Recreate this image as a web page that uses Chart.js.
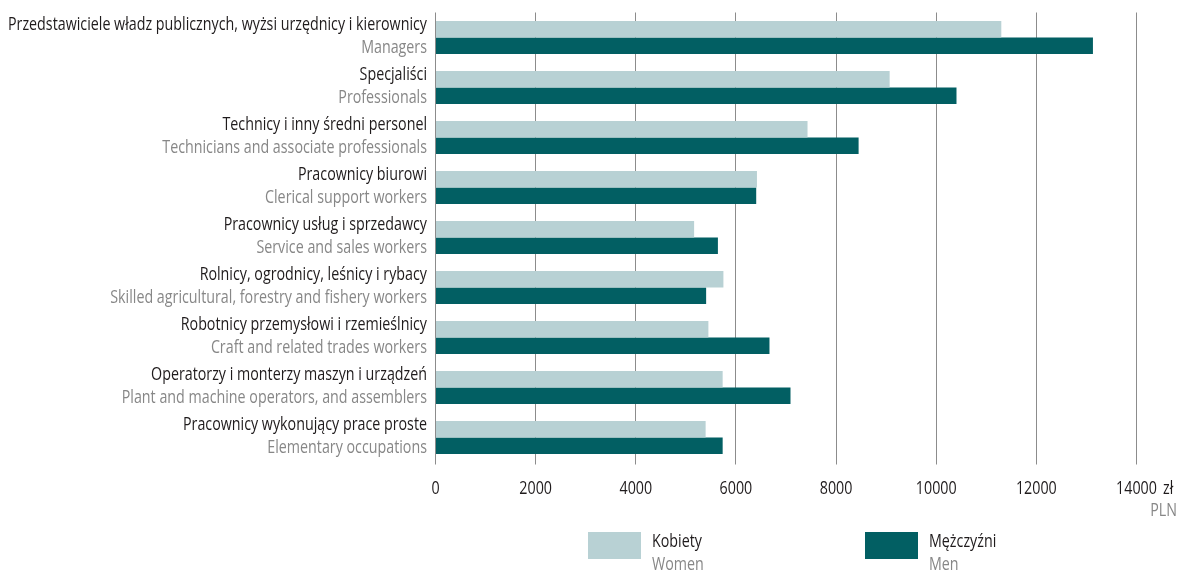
<!DOCTYPE html>
<html lang="pl">
<head>
    <meta charset="UTF-8">
    <title>Wynagrodzenia wg grup zawodów</title>
    <script src="https://cdn.jsdelivr.net/npm/chart.js"></script>
    <style>
        html, body { margin: 0; padding: 0; background: #fff; }
        #wrap { width: 1179px; height: 570px; }
    </style>
</head>
<body>
    <div id="wrap"><canvas id="payChart"></canvas></div>

    <script>
        const categoriesPl = [
            'Przedstawiciele władz publicznych, wyżsi urzędnicy i kierownicy',
            'Specjaliści',
            'Technicy i inny średni personel',
            'Pracownicy biurowi',
            'Pracownicy usług i sprzedawcy',
            'Rolnicy, ogrodnicy, leśnicy i rybacy',
            'Robotnicy przemysłowi i rzemieślnicy',
            'Operatorzy i monterzy maszyn i urządzeń',
            'Pracownicy wykonujący prace proste'
        ];
        const categoriesEn = [
            'Managers',
            'Professionals',
            'Technicians and associate professionals',
            'Clerical support workers',
            'Service and sales workers',
            'Skilled agricultural, forestry and fishery workers',
            'Craft and related trades workers',
            'Plant and machine operators, and assemblers',
            'Elementary occupations'
        ];
        const women = [11300, 9070, 7430, 6420, 5165, 5750, 5450, 5735, 5395];
        const men = [13130, 10405, 8450, 6405, 5640, 5405, 6670, 7090, 5735];
        const xTicks = [0, 2000, 4000, 6000, 8000, 10000, 12000, 14000];

        const FONT = '18px "Open Sans", "Noto Sans", sans-serif';
        const DARK = '#1f1b1c';
        const GREY = '#878787';
        const WOMEN_COLOR = '#b8d1d4';
        const MEN_COLOR = '#025f63';

        // brak fontu typu condensed - tekst ściskany w poziomie
        let squeeze = 1;
        function text(ctx, str, x, y, align, color) {
            ctx.save();
            ctx.scale(squeeze, 1);
            ctx.textAlign = align;
            ctx.fillStyle = color;
            ctx.fillText(str, x / squeeze, y);
            ctx.restore();
        }

        const extraText = {
            id: 'extraText',
            afterDraw(chart) {
                const ctx = chart.ctx;
                const y = chart.scales.y;
                const x = chart.scales.x;
                ctx.save();
                ctx.font = FONT;
                ctx.textBaseline = 'alphabetic';
                squeeze = 419 / ctx.measureText(categoriesPl[0]).width;

                categoriesPl.forEach((c, i) => {
                    const cy = y.getPixelForTick(i);
                    text(ctx, c, 427, cy - 8, 'right', DARK);
                    text(ctx, categoriesEn[i], 427, cy + 15.5, 'right', GREY);
                });

                xTicks.forEach(v => {
                    text(ctx, String(v), x.getPixelForValue(v), 494, 'center', DARK);
                });
                text(ctx, 'zł', 1163, 494, 'left', DARK);
                text(ctx, 'PLN', 1177, 516, 'right', GREY);

                // legenda
                const items = [
                    { x: 588, color: WOMEN_COLOR, pl: 'Kobiety', en: 'Women' },
                    { x: 865, color: MEN_COLOR, pl: 'Mężczyźni', en: 'Men' }
                ];
                items.forEach(it => {
                    ctx.fillStyle = it.color;
                    ctx.fillRect(it.x, 532, 53, 27);
                    text(ctx, it.pl, it.x + 64, 547, 'left', DARK);
                    text(ctx, it.en, it.x + 64, 570, 'left', GREY);
                });
                ctx.restore();
            }
        };

        new Chart(document.getElementById('payChart'), {
            type: 'bar',
            data: {
                labels: categoriesPl,
                datasets: [
                    { label: 'Kobiety', data: women, backgroundColor: WOMEN_COLOR },
                    { label: 'Mężczyźni', data: men, backgroundColor: MEN_COLOR }
                ]
            },
            options: {
                indexAxis: 'y',
                responsive: true,
                maintainAspectRatio: false,
                animation: false,
                layout: { padding: { top: 12.5, right: 42.5, left: 0, bottom: 0 } },
                datasets: { bar: { categoryPercentage: 0.66, barPercentage: 1 } },
                scales: {
                    x: {
                        min: 0,
                        max: 14000,
                        afterBuildTicks(scale) {
                            scale.ticks = xTicks.map(v => ({ value: v }));
                        },
                        afterFit(scale) { scale.height = 107.5; },
                        border: { display: false },
                        grid: { color: '#8c8c8c', lineWidth: 1, tickLength: 2 },
                        ticks: { display: false }
                    },
                    y: {
                        afterFit(scale) { scale.width = 435.5; },
                        border: { display: false },
                        grid: { display: false },
                        ticks: { display: false }
                    }
                },
                plugins: {
                    legend: { display: false },
                    tooltip: { enabled: false }
                }
            },
            plugins: [extraText]
        });
    </script>
</body>
</html>
